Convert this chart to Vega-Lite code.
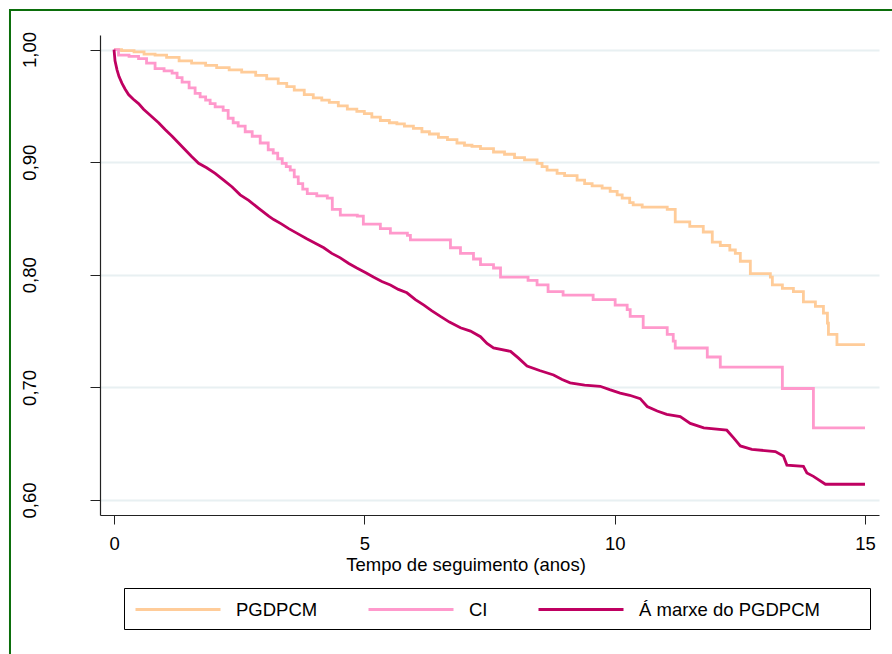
{
  "$schema": "https://vega.github.io/schema/vega-lite/v6.json",
  "autosize": {"type": "none"},
  "width": 779,
  "height": 480,
  "padding": {"left": 100, "top": 35, "right": 13, "bottom": 139},
  "background": "white",
  "config": {
    "view": {"stroke": null},
    "font": "Liberation Sans"
  },
  "datasets": {
    "curvas": [
      {"grupo": "PGDPCM", "t": 0, "s": 1.000},
      {"grupo": "PGDPCM", "t": 0.15, "s": 0.999},
      {"grupo": "PGDPCM", "t": 0.40, "s": 0.998},
      {"grupo": "PGDPCM", "t": 0.60, "s": 0.996},
      {"grupo": "PGDPCM", "t": 0.82, "s": 0.995},
      {"grupo": "PGDPCM", "t": 1.05, "s": 0.993},
      {"grupo": "PGDPCM", "t": 1.30, "s": 0.990},
      {"grupo": "PGDPCM", "t": 1.55, "s": 0.988},
      {"grupo": "PGDPCM", "t": 1.83, "s": 0.986},
      {"grupo": "PGDPCM", "t": 2.05, "s": 0.984},
      {"grupo": "PGDPCM", "t": 2.30, "s": 0.982},
      {"grupo": "PGDPCM", "t": 2.55, "s": 0.980},
      {"grupo": "PGDPCM", "t": 2.83, "s": 0.977},
      {"grupo": "PGDPCM", "t": 3.05, "s": 0.974},
      {"grupo": "PGDPCM", "t": 3.28, "s": 0.970},
      {"grupo": "PGDPCM", "t": 3.45, "s": 0.967},
      {"grupo": "PGDPCM", "t": 3.60, "s": 0.964},
      {"grupo": "PGDPCM", "t": 3.80, "s": 0.960},
      {"grupo": "PGDPCM", "t": 3.98, "s": 0.957},
      {"grupo": "PGDPCM", "t": 4.15, "s": 0.955},
      {"grupo": "PGDPCM", "t": 4.30, "s": 0.953},
      {"grupo": "PGDPCM", "t": 4.48, "s": 0.950},
      {"grupo": "PGDPCM", "t": 4.66, "s": 0.947},
      {"grupo": "PGDPCM", "t": 4.85, "s": 0.945},
      {"grupo": "PGDPCM", "t": 5.00, "s": 0.943},
      {"grupo": "PGDPCM", "t": 5.15, "s": 0.940},
      {"grupo": "PGDPCM", "t": 5.32, "s": 0.937},
      {"grupo": "PGDPCM", "t": 5.50, "s": 0.935},
      {"grupo": "PGDPCM", "t": 5.65, "s": 0.934},
      {"grupo": "PGDPCM", "t": 5.80, "s": 0.932},
      {"grupo": "PGDPCM", "t": 5.98, "s": 0.930},
      {"grupo": "PGDPCM", "t": 6.15, "s": 0.927},
      {"grupo": "PGDPCM", "t": 6.30, "s": 0.925},
      {"grupo": "PGDPCM", "t": 6.48, "s": 0.922},
      {"grupo": "PGDPCM", "t": 6.66, "s": 0.920},
      {"grupo": "PGDPCM", "t": 6.85, "s": 0.917},
      {"grupo": "PGDPCM", "t": 7.00, "s": 0.915},
      {"grupo": "PGDPCM", "t": 7.15, "s": 0.914},
      {"grupo": "PGDPCM", "t": 7.32, "s": 0.912},
      {"grupo": "PGDPCM", "t": 7.58, "s": 0.909},
      {"grupo": "PGDPCM", "t": 7.80, "s": 0.907},
      {"grupo": "PGDPCM", "t": 8.00, "s": 0.904},
      {"grupo": "PGDPCM", "t": 8.20, "s": 0.902},
      {"grupo": "PGDPCM", "t": 8.45, "s": 0.899},
      {"grupo": "PGDPCM", "t": 8.55, "s": 0.896},
      {"grupo": "PGDPCM", "t": 8.65, "s": 0.893},
      {"grupo": "PGDPCM", "t": 8.85, "s": 0.890},
      {"grupo": "PGDPCM", "t": 9.00, "s": 0.888},
      {"grupo": "PGDPCM", "t": 9.25, "s": 0.884},
      {"grupo": "PGDPCM", "t": 9.40, "s": 0.881},
      {"grupo": "PGDPCM", "t": 9.55, "s": 0.879},
      {"grupo": "PGDPCM", "t": 9.75, "s": 0.877},
      {"grupo": "PGDPCM", "t": 9.91, "s": 0.874},
      {"grupo": "PGDPCM", "t": 10.05, "s": 0.871},
      {"grupo": "PGDPCM", "t": 10.15, "s": 0.868},
      {"grupo": "PGDPCM", "t": 10.30, "s": 0.864},
      {"grupo": "PGDPCM", "t": 10.37, "s": 0.862},
      {"grupo": "PGDPCM", "t": 10.55, "s": 0.860},
      {"grupo": "PGDPCM", "t": 11.05, "s": 0.858},
      {"grupo": "PGDPCM", "t": 11.21, "s": 0.847},
      {"grupo": "PGDPCM", "t": 11.50, "s": 0.843},
      {"grupo": "PGDPCM", "t": 11.77, "s": 0.838},
      {"grupo": "PGDPCM", "t": 11.95, "s": 0.829},
      {"grupo": "PGDPCM", "t": 12.11, "s": 0.826},
      {"grupo": "PGDPCM", "t": 12.30, "s": 0.822},
      {"grupo": "PGDPCM", "t": 12.41, "s": 0.819},
      {"grupo": "PGDPCM", "t": 12.51, "s": 0.812},
      {"grupo": "PGDPCM", "t": 12.71, "s": 0.801},
      {"grupo": "PGDPCM", "t": 13.11, "s": 0.798},
      {"grupo": "PGDPCM", "t": 13.15, "s": 0.791},
      {"grupo": "PGDPCM", "t": 13.35, "s": 0.788},
      {"grupo": "PGDPCM", "t": 13.57, "s": 0.785},
      {"grupo": "PGDPCM", "t": 13.77, "s": 0.776},
      {"grupo": "PGDPCM", "t": 14.01, "s": 0.772},
      {"grupo": "PGDPCM", "t": 14.17, "s": 0.766},
      {"grupo": "PGDPCM", "t": 14.25, "s": 0.757},
      {"grupo": "PGDPCM", "t": 14.27, "s": 0.747},
      {"grupo": "PGDPCM", "t": 14.44, "s": 0.738},
      {"grupo": "PGDPCM", "t": 15.00, "s": 0.738},

      {"grupo": "CI", "t": 0, "s": 1.000},
      {"grupo": "CI", "t": 0.09, "s": 0.995},
      {"grupo": "CI", "t": 0.30, "s": 0.994},
      {"grupo": "CI", "t": 0.49, "s": 0.992},
      {"grupo": "CI", "t": 0.65, "s": 0.988},
      {"grupo": "CI", "t": 0.82, "s": 0.983},
      {"grupo": "CI", "t": 1.00, "s": 0.981},
      {"grupo": "CI", "t": 1.16, "s": 0.979},
      {"grupo": "CI", "t": 1.26, "s": 0.975},
      {"grupo": "CI", "t": 1.36, "s": 0.971},
      {"grupo": "CI", "t": 1.50, "s": 0.966},
      {"grupo": "CI", "t": 1.62, "s": 0.961},
      {"grupo": "CI", "t": 1.72, "s": 0.958},
      {"grupo": "CI", "t": 1.83, "s": 0.955},
      {"grupo": "CI", "t": 1.92, "s": 0.952},
      {"grupo": "CI", "t": 2.02, "s": 0.949},
      {"grupo": "CI", "t": 2.18, "s": 0.946},
      {"grupo": "CI", "t": 2.28, "s": 0.939},
      {"grupo": "CI", "t": 2.38, "s": 0.935},
      {"grupo": "CI", "t": 2.48, "s": 0.932},
      {"grupo": "CI", "t": 2.62, "s": 0.927},
      {"grupo": "CI", "t": 2.76, "s": 0.923},
      {"grupo": "CI", "t": 2.92, "s": 0.917},
      {"grupo": "CI", "t": 3.08, "s": 0.911},
      {"grupo": "CI", "t": 3.18, "s": 0.908},
      {"grupo": "CI", "t": 3.27, "s": 0.903},
      {"grupo": "CI", "t": 3.36, "s": 0.899},
      {"grupo": "CI", "t": 3.44, "s": 0.896},
      {"grupo": "CI", "t": 3.52, "s": 0.893},
      {"grupo": "CI", "t": 3.60, "s": 0.887},
      {"grupo": "CI", "t": 3.68, "s": 0.881},
      {"grupo": "CI", "t": 3.77, "s": 0.876},
      {"grupo": "CI", "t": 3.86, "s": 0.872},
      {"grupo": "CI", "t": 4.05, "s": 0.870},
      {"grupo": "CI", "t": 4.26, "s": 0.868},
      {"grupo": "CI", "t": 4.36, "s": 0.858},
      {"grupo": "CI", "t": 4.52, "s": 0.853},
      {"grupo": "CI", "t": 4.86, "s": 0.852},
      {"grupo": "CI", "t": 4.98, "s": 0.845},
      {"grupo": "CI", "t": 5.32, "s": 0.841},
      {"grupo": "CI", "t": 5.52, "s": 0.837},
      {"grupo": "CI", "t": 5.86, "s": 0.835},
      {"grupo": "CI", "t": 5.92, "s": 0.831},
      {"grupo": "CI", "t": 6.72, "s": 0.824},
      {"grupo": "CI", "t": 6.92, "s": 0.819},
      {"grupo": "CI", "t": 7.18, "s": 0.814},
      {"grupo": "CI", "t": 7.32, "s": 0.809},
      {"grupo": "CI", "t": 7.58, "s": 0.806},
      {"grupo": "CI", "t": 7.72, "s": 0.798},
      {"grupo": "CI", "t": 8.27, "s": 0.795},
      {"grupo": "CI", "t": 8.45, "s": 0.791},
      {"grupo": "CI", "t": 8.67, "s": 0.785},
      {"grupo": "CI", "t": 8.97, "s": 0.782},
      {"grupo": "CI", "t": 9.57, "s": 0.778},
      {"grupo": "CI", "t": 10.01, "s": 0.773},
      {"grupo": "CI", "t": 10.25, "s": 0.769},
      {"grupo": "CI", "t": 10.31, "s": 0.763},
      {"grupo": "CI", "t": 10.57, "s": 0.753},
      {"grupo": "CI", "t": 11.05, "s": 0.747},
      {"grupo": "CI", "t": 11.17, "s": 0.741},
      {"grupo": "CI", "t": 11.21, "s": 0.735},
      {"grupo": "CI", "t": 11.85, "s": 0.727},
      {"grupo": "CI", "t": 12.11, "s": 0.718},
      {"grupo": "CI", "t": 13.35, "s": 0.699},
      {"grupo": "CI", "t": 13.97, "s": 0.664},
      {"grupo": "CI", "t": 15.00, "s": 0.664},

      {"grupo": "Á marxe do PGDPCM", "t": 0, "s": 1.000},
      {"grupo": "Á marxe do PGDPCM", "t": 0.02, "s": 0.990},
      {"grupo": "Á marxe do PGDPCM", "t": 0.06, "s": 0.982},
      {"grupo": "Á marxe do PGDPCM", "t": 0.10, "s": 0.976},
      {"grupo": "Á marxe do PGDPCM", "t": 0.16, "s": 0.970},
      {"grupo": "Á marxe do PGDPCM", "t": 0.22, "s": 0.965},
      {"grupo": "Á marxe do PGDPCM", "t": 0.29, "s": 0.960},
      {"grupo": "Á marxe do PGDPCM", "t": 0.38, "s": 0.956},
      {"grupo": "Á marxe do PGDPCM", "t": 0.49, "s": 0.952},
      {"grupo": "Á marxe do PGDPCM", "t": 0.59, "s": 0.947},
      {"grupo": "Á marxe do PGDPCM", "t": 0.69, "s": 0.943},
      {"grupo": "Á marxe do PGDPCM", "t": 0.79, "s": 0.939},
      {"grupo": "Á marxe do PGDPCM", "t": 0.89, "s": 0.935},
      {"grupo": "Á marxe do PGDPCM", "t": 1.02, "s": 0.929},
      {"grupo": "Á marxe do PGDPCM", "t": 1.16, "s": 0.923},
      {"grupo": "Á marxe do PGDPCM", "t": 1.29, "s": 0.917},
      {"grupo": "Á marxe do PGDPCM", "t": 1.42, "s": 0.911},
      {"grupo": "Á marxe do PGDPCM", "t": 1.55, "s": 0.905},
      {"grupo": "Á marxe do PGDPCM", "t": 1.69, "s": 0.899},
      {"grupo": "Á marxe do PGDPCM", "t": 1.85, "s": 0.895},
      {"grupo": "Á marxe do PGDPCM", "t": 2.02, "s": 0.890},
      {"grupo": "Á marxe do PGDPCM", "t": 2.19, "s": 0.884},
      {"grupo": "Á marxe do PGDPCM", "t": 2.36, "s": 0.878},
      {"grupo": "Á marxe do PGDPCM", "t": 2.52, "s": 0.871},
      {"grupo": "Á marxe do PGDPCM", "t": 2.69, "s": 0.866},
      {"grupo": "Á marxe do PGDPCM", "t": 2.89, "s": 0.859},
      {"grupo": "Á marxe do PGDPCM", "t": 3.09, "s": 0.852},
      {"grupo": "Á marxe do PGDPCM", "t": 3.19, "s": 0.849},
      {"grupo": "Á marxe do PGDPCM", "t": 3.35, "s": 0.845},
      {"grupo": "Á marxe do PGDPCM", "t": 3.49, "s": 0.841},
      {"grupo": "Á marxe do PGDPCM", "t": 3.65, "s": 0.837},
      {"grupo": "Á marxe do PGDPCM", "t": 3.85, "s": 0.832},
      {"grupo": "Á marxe do PGDPCM", "t": 4.02, "s": 0.828},
      {"grupo": "Á marxe do PGDPCM", "t": 4.19, "s": 0.824},
      {"grupo": "Á marxe do PGDPCM", "t": 4.35, "s": 0.819},
      {"grupo": "Á marxe do PGDPCM", "t": 4.52, "s": 0.815},
      {"grupo": "Á marxe do PGDPCM", "t": 4.69, "s": 0.810},
      {"grupo": "Á marxe do PGDPCM", "t": 4.85, "s": 0.806},
      {"grupo": "Á marxe do PGDPCM", "t": 5.02, "s": 0.802},
      {"grupo": "Á marxe do PGDPCM", "t": 5.18, "s": 0.798},
      {"grupo": "Á marxe do PGDPCM", "t": 5.35, "s": 0.794},
      {"grupo": "Á marxe do PGDPCM", "t": 5.52, "s": 0.791},
      {"grupo": "Á marxe do PGDPCM", "t": 5.68, "s": 0.787},
      {"grupo": "Á marxe do PGDPCM", "t": 5.85, "s": 0.784},
      {"grupo": "Á marxe do PGDPCM", "t": 6.02, "s": 0.778},
      {"grupo": "Á marxe do PGDPCM", "t": 6.19, "s": 0.773},
      {"grupo": "Á marxe do PGDPCM", "t": 6.35, "s": 0.768},
      {"grupo": "Á marxe do PGDPCM", "t": 6.52, "s": 0.763},
      {"grupo": "Á marxe do PGDPCM", "t": 6.70, "s": 0.758},
      {"grupo": "Á marxe do PGDPCM", "t": 6.92, "s": 0.753},
      {"grupo": "Á marxe do PGDPCM", "t": 7.12, "s": 0.750},
      {"grupo": "Á marxe do PGDPCM", "t": 7.32, "s": 0.745},
      {"grupo": "Á marxe do PGDPCM", "t": 7.45, "s": 0.739},
      {"grupo": "Á marxe do PGDPCM", "t": 7.58, "s": 0.735},
      {"grupo": "Á marxe do PGDPCM", "t": 7.92, "s": 0.732},
      {"grupo": "Á marxe do PGDPCM", "t": 8.08, "s": 0.726},
      {"grupo": "Á marxe do PGDPCM", "t": 8.25, "s": 0.719},
      {"grupo": "Á marxe do PGDPCM", "t": 8.50, "s": 0.715},
      {"grupo": "Á marxe do PGDPCM", "t": 8.78, "s": 0.711},
      {"grupo": "Á marxe do PGDPCM", "t": 8.95, "s": 0.707},
      {"grupo": "Á marxe do PGDPCM", "t": 9.11, "s": 0.704},
      {"grupo": "Á marxe do PGDPCM", "t": 9.40, "s": 0.702},
      {"grupo": "Á marxe do PGDPCM", "t": 9.71, "s": 0.701},
      {"grupo": "Á marxe do PGDPCM", "t": 9.90, "s": 0.698},
      {"grupo": "Á marxe do PGDPCM", "t": 10.11, "s": 0.695},
      {"grupo": "Á marxe do PGDPCM", "t": 10.30, "s": 0.693},
      {"grupo": "Á marxe do PGDPCM", "t": 10.51, "s": 0.690},
      {"grupo": "Á marxe do PGDPCM", "t": 10.65, "s": 0.683},
      {"grupo": "Á marxe do PGDPCM", "t": 10.85, "s": 0.679},
      {"grupo": "Á marxe do PGDPCM", "t": 11.04, "s": 0.676},
      {"grupo": "Á marxe do PGDPCM", "t": 11.31, "s": 0.674},
      {"grupo": "Á marxe do PGDPCM", "t": 11.51, "s": 0.668},
      {"grupo": "Á marxe do PGDPCM", "t": 11.78, "s": 0.664},
      {"grupo": "Á marxe do PGDPCM", "t": 12.24, "s": 0.662},
      {"grupo": "Á marxe do PGDPCM", "t": 12.38, "s": 0.655},
      {"grupo": "Á marxe do PGDPCM", "t": 12.51, "s": 0.648},
      {"grupo": "Á marxe do PGDPCM", "t": 12.74, "s": 0.645},
      {"grupo": "Á marxe do PGDPCM", "t": 13.21, "s": 0.643},
      {"grupo": "Á marxe do PGDPCM", "t": 13.37, "s": 0.639},
      {"grupo": "Á marxe do PGDPCM", "t": 13.44, "s": 0.631},
      {"grupo": "Á marxe do PGDPCM", "t": 13.77, "s": 0.630},
      {"grupo": "Á marxe do PGDPCM", "t": 13.84, "s": 0.624},
      {"grupo": "Á marxe do PGDPCM", "t": 13.97, "s": 0.621},
      {"grupo": "Á marxe do PGDPCM", "t": 14.21, "s": 0.614},
      {"grupo": "Á marxe do PGDPCM", "t": 15.00, "s": 0.614}
    ]
  },
  "layer": [
    {
      "data": {"name": "curvas"},
      "encoding": {
        "x": {
          "field": "t",
          "type": "quantitative",
          "scale": {"domain": [-0.28, 15.28], "nice": false, "zero": false},
          "axis": {
            "values": [0, 5, 10, 15],
            "format": "d",
            "grid": false,
            "domainColor": "#222222",
            "domainWidth": 1.2,
            "tickColor": "#222222",
            "tickSize": 9,
            "labelFont": "Liberation Sans",
            "labelFontSize": 18.5,
            "labelColor": "#000000",
            "labelBaseline": "alphabetic",
            "labelPadding": 25.5,
            "title": "Tempo de seguimento (anos)",
            "titleFont": "Liberation Sans",
            "titleFontSize": 18.5,
            "titleFontWeight": "normal",
            "titleColor": "#000000",
            "titleX": 365.5,
            "titleY": 55,
            "titleAlign": "center",
            "titleBaseline": "alphabetic"
          }
        },
        "y": {
          "field": "s",
          "type": "quantitative",
          "scale": {"domain": [0.5867, 1.0129], "nice": false, "zero": false},
          "axis": {
            "values": [0.6, 0.7, 0.8, 0.9, 1.0],
            "labelExpr": "replace(format(datum.value, '.2f'), '.', ',')",
            "grid": true,
            "gridColor": "#E8F0F2",
            "gridWidth": 2,
            "domainColor": "#222222",
            "domainWidth": 1.2,
            "tickColor": "#222222",
            "tickSize": 10,
            "labelFont": "Liberation Sans",
            "labelFontSize": 18.5,
            "labelColor": "#000000",
            "labelAngle": 270,
            "labelAlign": "center",
            "labelBaseline": "alphabetic",
            "labelPadding": 55,
            "title": null
          }
        },
        "color": {
          "field": "grupo",
          "type": "nominal",
          "scale": {
            "domain": ["PGDPCM", "CI", "Á marxe do PGDPCM"],
            "range": ["#FFCC99", "#FF99CC", "#BF0061"]
          },
          "legend": {
            "orient": "none",
            "legendX": 24,
            "legendY": 553,
            "direction": "horizontal",
            "title": " ",
            "titleOrient": "right",
            "titleFontSize": 18.5,
            "titlePadding": 40,
            "padding": 10,
            "strokeColor": "#000000",
            "fillColor": "#FFFFFF",
            "symbolType": "M-1,0H7.5",
            "symbolSize": 400,
            "symbolStrokeWidth": 3,
            "labelOffset": 79,
            "labelLimit": 400,
            "columnPadding": 44,
            "labelFont": "Liberation Sans",
            "labelFontSize": 18.5,
            "labelColor": "#000000"
          }
        },
        "order": {"field": "t", "type": "quantitative"}
      },
      "layer": [
        {
          "transform": [{"filter": "datum.grupo !== 'Á marxe do PGDPCM'"}],
          "mark": {"type": "line", "interpolate": "step-after", "strokeWidth": 2.8}
        },
        {
          "transform": [{"filter": "datum.grupo === 'Á marxe do PGDPCM'"}],
          "mark": {"type": "line", "interpolate": "linear", "strokeWidth": 2.8}
        }
      ]
    },
    {
      "data": {"values": [{"marco": 1}]},
      "mark": {"type": "rect", "fill": null, "stroke": "#0B6E0B", "strokeWidth": 2, "clip": false},
      "encoding": {
        "x": {"datum": -2.078, "type": "quantitative"},
        "x2": {"datum": 17},
        "y": {"datum": 1.0351, "type": "quantitative"},
        "y2": {"datum": 0.4}
      }
    }
  ]
}
